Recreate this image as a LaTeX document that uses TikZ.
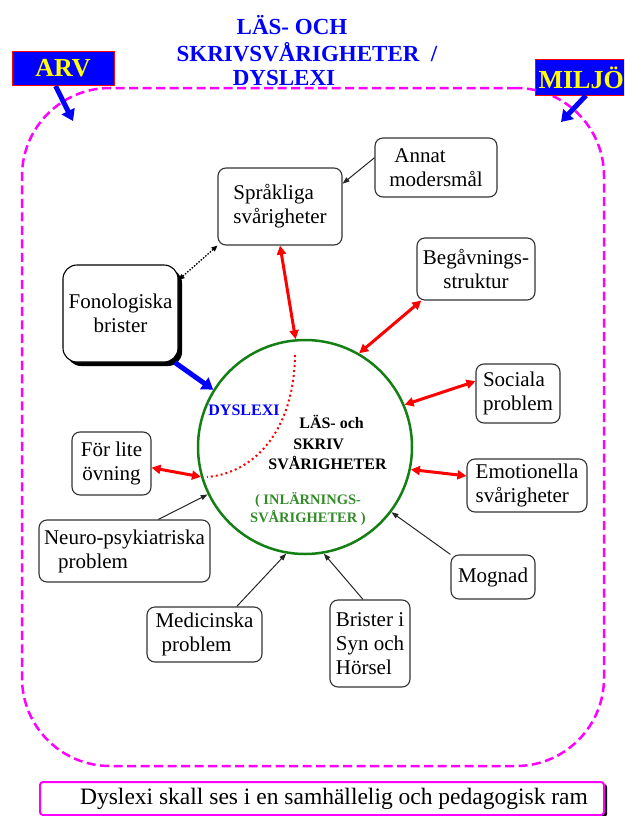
\documentclass[tikz,border=0pt]{standalone}
\usepackage{fontspec}
\setmainfont{Liberation Serif}
\usetikzlibrary{arrows.meta,shadows}
\definecolor{mag}{RGB}{255,0,255}
\definecolor{cgreen}{RGB}{20,128,20}
\definecolor{tgreen}{RGB}{50,140,40}
\definecolor{tblue}{RGB}{0,0,255}
\definecolor{tyellow}{RGB}{255,255,0}
\begin{document}
\begin{tikzpicture}[x=1pt,y=-1pt,
  box/.style={draw=black!80, line width=1.1pt, rounded corners=8pt, fill=white, inner sep=0pt, font=\fontsize{21}{24}\selectfont},
  redarr/.style={red, line width=3pt, {Triangle[length=9pt,width=9pt]}-{Triangle[length=9pt,width=9pt]}},
  bluearr/.style={tblue, line width=5pt, -{Triangle[length=11pt,width=14pt]}},
  thinarr/.style={black!85, line width=1pt, -{Triangle[length=7pt,width=5pt]}},
  dotarr/.style={black, line width=1.3pt, dash pattern=on 1.5pt off 1.5pt, {Triangle[length=6pt,width=5pt]}-{Triangle[length=6pt,width=5pt]}},
  titletext/.style={text=tblue, font=\bfseries\fontsize{23}{26}\selectfont, inner sep=0pt},
  tag/.style={draw=red, line width=1pt, fill=tblue, text=tyellow, font=\bfseries\fontsize{26}{28}\selectfont, minimum height=34pt, inner sep=0pt}
]
\useasboundingbox (0,0) rectangle (624,816);
\clip (0,0) rectangle (624,816);
\fill[white] (0,0) rectangle (624,816);

% dashed frame
\node[draw=mag, line width=2.5pt, dash pattern=on 9pt off 4.5pt, rounded corners=88pt,
      minimum width=582pt, minimum height=678pt, inner sep=0pt] (frame) at (313,427) {};

% title
\node[titletext] (t1) at (292,25) {LÄS- OCH};
\node[titletext] (t2) at (307,52) {SKRIVSVÅRIGHETER\ \ /};
\node[titletext] (t3) at (284,78) {DYSLEXI};

% ARV / MILJÖ
\node[tag, minimum width=102pt] (arv) at (63,68.5) {ARV};
\node[tag, anchor=west, inner xsep=3pt, minimum height=35pt] (miljo) at (535,77.5) {MILJÖ};
\coordinate (arvtip) at (73,121);
\coordinate (miljotip) at (561,122);
\draw[bluearr] (arv.-113) -- (arvtip);
\draw[bluearr] (miljo.-75) -- (miljotip);

% central circle
\node[circle, draw=cgreen, line width=2.5pt, minimum size=214pt, inner sep=0pt] (c) at (305,447) {};
\draw[red, line width=2pt, dash pattern=on 2pt off 3pt] (295,355) .. controls (294,430) and (255,473) .. (207,477);
\node[text=tblue, font=\bfseries\fontsize{16}{18}\selectfont, inner sep=0pt] (dys) at (244,410) {DYSLEXI};
\node[font=\bfseries\fontsize{16}{20.5}\selectfont, align=left, inner sep=0pt] (ls) at (327.5,442.5) {\hspace*{31pt}LÄS- och\\\hspace*{25pt}SKRIV\\SVÅRIGHETER};
\node[text=tgreen, font=\bfseries\fontsize{14.5}{18}\selectfont, align=center, inner sep=0pt] (inl) at (308,509) {( INLÄRNINGS-\\SVÅRIGHETER )};

% boxes
\node[box, minimum width=124pt, minimum height=77pt, align=left] (sprak) at (280,206.5) {Språkliga\\svårigheter};
\node[box, minimum width=122pt, minimum height=59pt, align=left] (annat) at (436,167.5) {\hspace*{5pt}Annat\\modersmål};
\node[box, minimum width=118pt, minimum height=62pt, align=center] (begav) at (476,269) {Begåvnings-\\struktur};
\node[box, draw=black, rounded corners=14pt, minimum width=115pt, minimum height=97pt, align=center,
      general shadow={fill=black, shadow xshift=4pt, shadow yshift=-4pt}] (fono) at (120.5,313.5) {Fonologiska\\brister};
\node[box, minimum width=84pt, minimum height=59pt, align=left] (sociala) at (518,393.5) {Sociala\\problem};
\node[box, minimum width=120pt, minimum height=53pt, align=left] (emot) at (527,485.5) {Emotionella\\svårigheter};
\node[box, minimum width=79pt, minimum height=63pt, align=center] (forlite) at (111.5,463.5) {För lite\\övning};
\node[box, minimum width=171pt, minimum height=62pt, align=left] (neuro) at (124.5,551) {Neuro-psykiatriska\\\hspace*{14pt}problem};
\node[box, minimum width=115pt, minimum height=55pt, align=left] (med) at (204.5,634.5) {Medicinska\\\hspace*{6pt}problem};
\node[box, minimum width=80pt, minimum height=87pt, align=left] (brister) at (370,643.5) {Brister i\\Syn och\\Hörsel};
\node[box, minimum width=84pt, minimum height=44pt] (mognad) at (493,577) {Mognad};

% connectors
\draw[redarr] (sprak.south) -- (c.95);
\draw[redarr] (begav.210) -- (c.60);
\draw[redarr] (sociala.164) -- (c.23);
\draw[redarr] (emot.171) -- (c.-12);
\draw[redarr] (forlite.-6) -- (c.196);
\draw[bluearr] (fono.-42) -- (c.148);
\draw[dotarr] (fono.30) -- (sprak.212);
\draw[thinarr] (annat.171) -- (sprak.20);
\draw[thinarr] (neuro.43) -- (c.206);
\draw[thinarr] (med.41) -- (c.260);
\draw[thinarr] (brister.99) -- (c.-80);
\draw[thinarr] (mognad.north west) -- (c.-37);

% banner
\node[draw=mag, line width=2pt, fill=white, rounded corners=3pt, minimum width=564pt, minimum height=33pt,
      inner sep=0pt, font=\fontsize{23.5}{26}\selectfont,
      general shadow={fill=black, shadow xshift=3pt, shadow yshift=-2pt}] (banner) at (322,798.5)
      {\hspace*{24pt}Dyslexi skall ses i en samhällelig och pedagogisk ram};
\end{tikzpicture}
\end{document}
